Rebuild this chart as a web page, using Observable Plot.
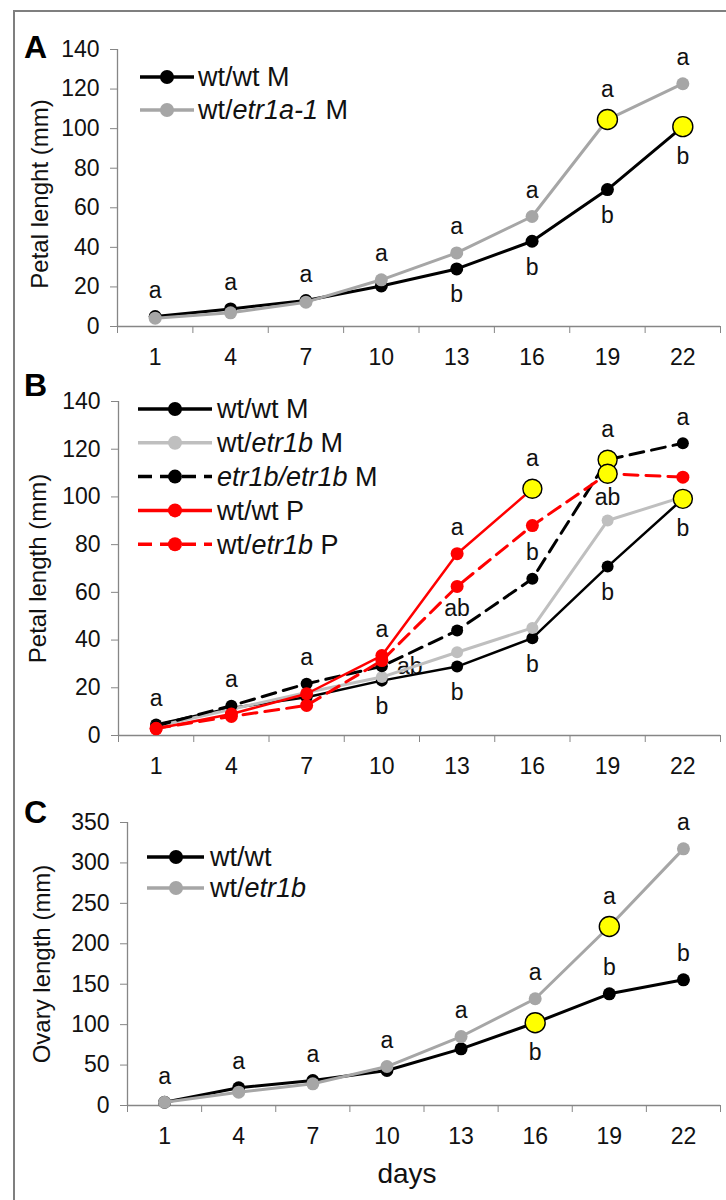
<!DOCTYPE html>
<html>
<head>
<meta charset="utf-8">
<script src="https://cdn.jsdelivr.net/npm/d3@7"></script>
<script src="https://cdn.jsdelivr.net/npm/@observablehq/plot@0.6"></script>
<style>
  html, body { margin: 0; padding: 0; background: #fff; overflow: hidden; }
  #fig { position: relative; width: 726px; height: 1200px; overflow: hidden;
         font-family: "Liberation Sans", Arial, sans-serif; background: #fff; }
  #fig .border { position: absolute; left: 13px; top: 10px; width: 800px; height: 1300px;
                 border: 2px solid #7f7f7f; box-sizing: border-box; }
  #fig svg.panel { position: absolute; left: 0; overflow: visible; }
  #fig svg text, #fig svg tspan { white-space: pre; }
</style>
</head>
<body>
<div id="fig"><div class="border"></div></div>
<script>
// ---- shared x categories (days after anthesis) ----
const days = [1, 4, 7, 10, 13, 16, 19, 22];

// ---- Panel A: petal length, wt/wt vs wt/etr1a-1 (M) ----
const aWtWtM    = [5.0, 8.9, 13.1, 20.5, 29.1, 43.1, 69.2, 101.0];
const aWtEtr1aM = [4.2, 6.9, 12.3, 23.6, 37.2, 55.6, 104.6, 122.7];
const aYTicks = [0, 20, 40, 60, 80, 100, 120, 140];
const aHighlights = [["wtEtr1aM", 19], ["wtWtM", 22]];
const aLetters = [
  [1, "a", "wtWtM", "above"], [4, "a", "wtWtM", "above"], [7, "a", "wtWtM", "above"],
  [10, "a", "wtEtr1aM", "above"],
  [13, "a", "wtEtr1aM", "above"], [13, "b", "wtWtM", "below"],
  [16, "a", "wtEtr1aM", "above"], [16, "b", "wtWtM", "below"],
  [19, "a", "wtEtr1aM", "above"], [19, "b", "wtWtM", "below"],
  [22, "a", "wtEtr1aM", "above"], [22, "b", "wtWtM", "below"]
];

// ---- Panel B: petal length, M and P flowers ----
const bWtWtM       = [4.6, 11.5, 16.0, 23.0, 28.9, 40.8, 70.8, 99.2];
const bWtEtr1bM    = [3.8, 11.0, 18.0, 24.5, 34.9, 45.1, 90.1, 100.0];
const bEtr1bEtr1bM = [4.0, 12.5, 21.7, 29.0, 44.0, 65.7, 115.6, 122.5];
const bWtWtP       = [2.8, 9.0, 17.5, 33.5, 76.2, 103.4, null, null];
const bWtEtr1bP    = [3.0, 8.0, 12.6, 31.4, 62.5, 88.0, 109.7, 108.3];
const bYTicks = [0, 20, 40, 60, 80, 100, 120, 140];
const bHighlights = [["wtWtP", 16], ["etr1bEtr1bM", 19], ["wtEtr1bP", 19], ["wtWtM", 22]];
const bLetters = [
  [1, "a", "wtWtM", "above"], [4, "a", "etr1bEtr1bM", "above"], [7, "a", "etr1bEtr1bM", "above"],
  [10, "a", "wtWtP", "above"], [10, "ab", "etr1bEtr1bM", "right"], [10, "b", "wtWtM", "below"],
  [13, "a", "wtWtP", "above"], [13, "ab", ["wtEtr1bP", "etr1bEtr1bM"], "between"], [13, "b", "wtWtM", "below"],
  [16, "a", "wtWtP", "above"], [16, "b", "etr1bEtr1bM", "above"], [16, "b", "wtWtM", "below"],
  [19, "a", "etr1bEtr1bM", "above"], [19, "ab", ["wtEtr1bP", "wtEtr1bM"], "between"], [19, "b", "wtWtM", "below"],
  [22, "a", "etr1bEtr1bM", "above"], [22, "b", "wtWtM", "below"]
];

// ---- Panel C: ovary length ----
const cWtWt    = [4.0, 21.9, 30.9, 43.3, 70.1, 102.3, 138.1, 155.4];
const cWtEtr1b = [4.0, 16.5, 26.8, 48.2, 85.3, 132.0, 221.4, 317.4];
const cYTicks = [0, 50, 100, 150, 200, 250, 300, 350];
const cHighlights = [["wtWt", 16], ["wtEtr1b", 19]];
const cLetters = [
  [1, "a", "wtWt", "above"], [4, "a", "wtWt", "above"], [7, "a", "wtWt", "above"],
  [10, "a", "wtEtr1b", "above"], [13, "a", "wtEtr1b", "above"],
  [16, "a", "wtEtr1b", "above"], [16, "b", "wtWt", "below"],
  [19, "a", "wtEtr1b", "above"], [19, "b", "wtWt", "above"],
  [22, "a", "wtEtr1b", "above"], [22, "b", "wtWt", "above"]
];

// ---- styling ----
const AXIS = "#868686";
const INK = "#111";
const BLACK = "#000";
const GREY = "#a6a6a6";
const LIGHT = "#bfbfbf";
const RED = "#ff0000";
const YELLOW = "#ffff00";
const DASH = "14,8";
const TICK_FONT = 23;
const LETTER_FONT = 23;
const LEGEND_FONT = 27;
const TITLE_FONT = 24;

// category bands: one per day, ticks on the band edges
const xDomain = [days[0] - 1.5, days[days.length - 1] + 1.5];
const dayBounds = days.map(d => d - 1.5).concat([xDomain[1]]);

const fig = document.getElementById("fig");

function addRichText(sel, label) {
  label.split("*").forEach((part, i) => {
    if (!part) return;
    const t = sel.append("tspan").text(part);
    if (i % 2 === 1) t.attr("font-style", "italic");
  });
}

function buildPanel(cfg) {
  const rows = cfg.series.flatMap(s =>
    s.values.map((v, i) => ({key: s.key, day: days[i], value: v})).filter(d => d.value != null));
  const valueOf = (key, day) => rows.find(r => r.key === key && r.day === day).value;
  const isHl = (key, day) => cfg.highlights.some(([k, d]) => k === key && d === day);

  const marks = [
    Plot.ruleY([cfg.yDomain[0]], {stroke: AXIS, strokeWidth: 1.3}),
    Plot.ruleX([xDomain[0]], {stroke: AXIS, strokeWidth: 1.3}),
    Plot.axisY({ticks: cfg.yTicks, tickSize: 7, tickPadding: 11, stroke: AXIS, fill: INK,
                fontSize: TICK_FONT, label: null, tickFormat: d => String(d)}),
    Plot.axisX({ticks: dayBounds, tickSize: 7, tickFormat: () => "", stroke: AXIS, label: null}),
    Plot.axisX({ticks: days, tickSize: 0, tickPadding: 22, fill: INK, fontSize: TICK_FONT, label: null,
                tickFormat: d => String(d)})
  ];

  // significance letters
  for (const [day, text, key, place] of cfg.letters) {
    let y, dy = 0, dx = 0;
    if (place === "between") {
      y = (valueOf(key[0], day) + valueOf(key[1], day)) / 2;
    } else {
      y = valueOf(key, day);
      const extra = isHl(key, day) ? 4 : 0;
      if (place === "above") dy = -26 - extra;
      if (place === "below") dy = 26 + extra;
      if (place === "right") dx = 28;
    }
    marks.push(Plot.text([{day, y, text}], {x: "day", y: "y", text: "text", dx, dy,
                                            fontSize: LETTER_FONT, fill: INK}));
  }

  // series lines and markers
  for (const s of cfg.series) {
    const data = rows.filter(r => r.key === s.key);
    marks.push(Plot.line(data, {x: "day", y: "value", stroke: s.color, strokeWidth: s.width,
                                strokeDasharray: s.dash || null, strokeLinejoin: "round"}));
    marks.push(Plot.dot(data, {x: "day", y: "value", r: s.r, fill: s.color, stroke: "none"}));
  }

  // highlighted time points
  const hl = rows.filter(r => isHl(r.key, r.day));
  marks.push(Plot.dot(hl, {x: "day", y: "value", r: cfg.hlR, fill: YELLOW, stroke: BLACK, strokeWidth: 1.4}));

  // panel letter and y title
  marks.push(Plot.text([cfg.letter], {text: d => d, frameAnchor: "top-left", dx: cfg.letterDx, dy: cfg.letterDy,
                                      fontSize: 32, fontWeight: "bold", fill: BLACK, textAnchor: "middle"}));
  marks.push(Plot.text([cfg.title], {text: d => d, frameAnchor: "left", dx: cfg.titleDx, dy: cfg.titleDy || 0,
                                     rotate: -90, fontSize: TITLE_FONT, fill: INK, textAnchor: "middle"}));
  if (cfg.xTitle) {
    marks.push(Plot.text([cfg.xTitle], {text: d => d, frameAnchor: "bottom", dx: -17, dy: 77,
                                        fontSize: 28, fill: INK, textAnchor: "middle"}));
  }

  const svg = Plot.plot({
    width: 726,
    height: cfg.height,
    marginLeft: cfg.marginLeft,
    marginRight: 6,
    marginTop: cfg.marginTop,
    marginBottom: cfg.marginBottom,
    x: {type: "linear", domain: xDomain},
    y: {domain: cfg.yDomain},
    style: {background: "none", overflow: "visible", fontFamily: "'Liberation Sans', Arial, sans-serif"},
    marks
  });
  svg.classList.add("panel");
  svg.style.top = cfg.top + "px";

  // legend
  const L = cfg.legend;
  const g = d3.select(svg).append("g").attr("class", "legend").attr("text-anchor", "start");
  cfg.series.forEach((s, i) => {
    const y = L.y0 + i * L.step;
    g.append("line").attr("x1", L.x0).attr("x2", L.x1).attr("y1", y).attr("y2", y)
      .attr("stroke", s.color).attr("stroke-width", 3.5)
      .attr("stroke-dasharray", s.dash || null);
    g.append("circle").attr("cx", L.xm).attr("cy", y).attr("r", 7).attr("fill", s.color);
    const t = g.append("text").attr("x", L.xt).attr("y", y).attr("dy", "0.35em")
      .attr("text-anchor", "start").attr("font-size", LEGEND_FONT).attr("fill", INK);
    addRichText(t, s.label);
  });

  fig.appendChild(svg);
}

buildPanel({
  top: 0, height: 370, marginLeft: 117, marginTop: 49, marginBottom: 44,
  yDomain: [0, 140], yTicks: aYTicks,
  series: [
    {key: "wtWtM", label: "wt/wt M", values: aWtWtM, color: BLACK, width: 3, r: 6.5},
    {key: "wtEtr1aM", label: "wt/*etr1a-1* M", values: aWtEtr1aM, color: GREY, width: 3, r: 6.5}
  ],
  highlights: aHighlights, hlR: 10, letters: aLetters,
  letter: "A", letterDx: -82, letterDy: -14,
  title: "Petal lenght (mm)", titleDx: -77, titleDy: 6,
  legend: {x0: 140, x1: 194, xm: 167, xt: 198, y0: 77, step: 33}
});

buildPanel({
  top: 370, height: 410, marginLeft: 118, marginTop: 31, marginBottom: 45,
  yDomain: [0, 140], yTicks: bYTicks,
  series: [
    {key: "wtWtM", label: "wt/wt M", values: bWtWtM, color: BLACK, width: 2.5, r: 6},
    {key: "wtEtr1bM", label: "wt/*etr1b* M", values: bWtEtr1bM, color: LIGHT, width: 3, r: 6},
    {key: "etr1bEtr1bM", label: "*etr1b/etr1b* M", values: bEtr1bEtr1bM, color: BLACK, width: 3, r: 6, dash: DASH},
    {key: "wtWtP", label: "wt/wt P", values: bWtWtP, color: RED, width: 2.5, r: 6.5},
    {key: "wtEtr1bP", label: "wt/*etr1b* P", values: bWtEtr1bP, color: RED, width: 3, r: 6.5, dash: DASH}
  ],
  highlights: bHighlights, hlR: 9.5, letters: bLetters,
  letter: "B", letterDx: -83, letterDy: -28,
  title: "Petal length (mm)", titleDx: -80,
  legend: {x0: 138, x1: 212, xm: 175, xt: 217, y0: 39, step: 33.8}
});

buildPanel({
  top: 780, height: 420, marginLeft: 127, marginTop: 42, marginBottom: 95,
  yDomain: [0, 350], yTicks: cYTicks,
  series: [
    {key: "wtWt", label: "wt/wt", values: cWtWt, color: BLACK, width: 3, r: 6.5},
    {key: "wtEtr1b", label: "wt/*etr1b*", values: cWtEtr1b, color: GREY, width: 3, r: 6.5}
  ],
  highlights: cHighlights, hlR: 10, letters: cLetters,
  letter: "C", letterDx: -92, letterDy: -22,
  title: "Ovary length (mm)", titleDx: -85,
  xTitle: "days",
  legend: {x0: 147, x1: 204, xm: 176, xt: 210, y0: 77, step: 31}
});
</script>
</body>
</html>
